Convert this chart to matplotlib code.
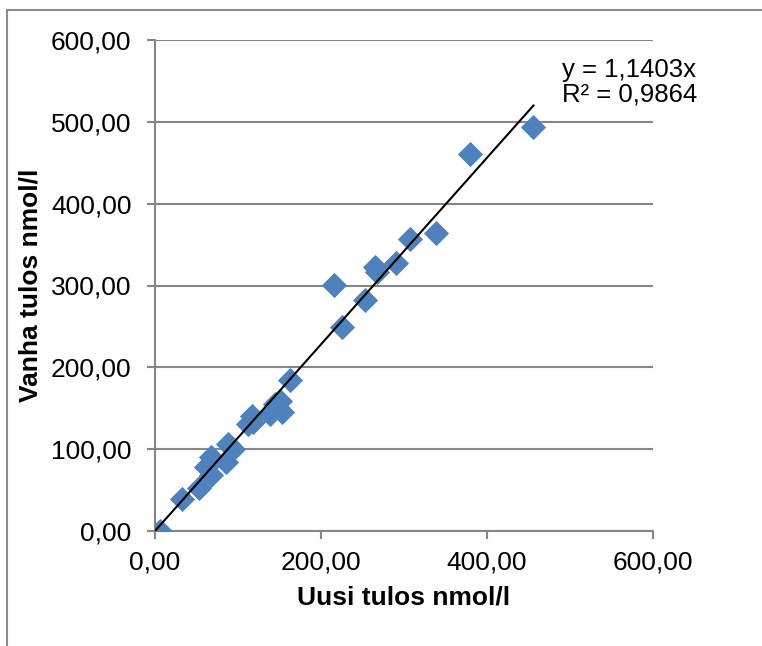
import numpy as np
import matplotlib.pyplot as plt
from matplotlib.patches import Rectangle
from matplotlib.ticker import FuncFormatter, MultipleLocator

# uusi (x) vs vanha (y) tulos, nmol/l
uusi = [6, 33, 53, 62, 67, 68, 85, 88, 94, 112, 117, 118, 138, 145, 151,
        153, 163, 216, 225, 253, 265, 267, 290, 307, 339, 380, 456]
vanha = [0, 39, 52, 78, 69, 90, 84, 106, 100, 131, 141, 133, 143, 155, 159,
         145, 185, 301, 249, 282, 322, 316, 328, 357, 364, 461, 494]
slope = 1.1403
r2 = 0.9864

plt.rcParams['font.family'] = ['Liberation Sans', 'DejaVu Sans']
grey = '#868686'

fig = plt.figure(figsize=(7.62, 6.46), dpi=100)
fig.patches.append(Rectangle((7/762, -0.1), 1.2, (636/646) + 0.1,
                             transform=fig.transFigure, fill=False,
                             edgecolor='#8c8c8c', lw=1.5))
ax = fig.add_axes([155/762, 115/646, 498/762, 491/646])

ax.scatter(uusi, vanha, marker='D', s=165, color='#4F81BD', zorder=3,
           linewidths=0)
xl = np.array([0, max(uusi)])
ax.plot(xl, slope * xl, color='black', lw=1.5, zorder=4)

ax.set_xlim(0, 600)
ax.set_ylim(0, 600)
ax.xaxis.set_major_locator(MultipleLocator(200))
ax.yaxis.set_major_locator(MultipleLocator(100))
fmt = FuncFormatter(lambda v, p: f'{v:.2f}'.replace('.', ','))
ax.xaxis.set_major_formatter(fmt)
ax.yaxis.set_major_formatter(fmt)
ax.grid(axis='y', color=grey, lw=1.5)
ax.set_axisbelow(True)
for s in ['top', 'right']:
    ax.spines[s].set_visible(False)
for s in ['left', 'bottom']:
    ax.spines[s].set_color(grey)
    ax.spines[s].set_linewidth(1.5)
ax.tick_params(colors=grey, width=1.5, length=6, labelsize=19,
               labelcolor='black')
ax.tick_params(axis='x', pad=8)
ax.tick_params(axis='y', pad=11)

ax.set_xlabel('Uusi tulos nmol/l', fontsize=19, fontweight='bold', labelpad=8)
ax.set_ylabel('Vanha tulos nmol/l', fontsize=19, fontweight='bold', labelpad=6)

ax.text(490, 578, f'y = {slope:.4f}x'.replace('.', ',') + '\n' +
        f'R² = {r2:.4f}'.replace('.', ','), fontsize=18.5, va='top',
        linespacing=1.0)

fig.savefig('out.png', dpi=100)
